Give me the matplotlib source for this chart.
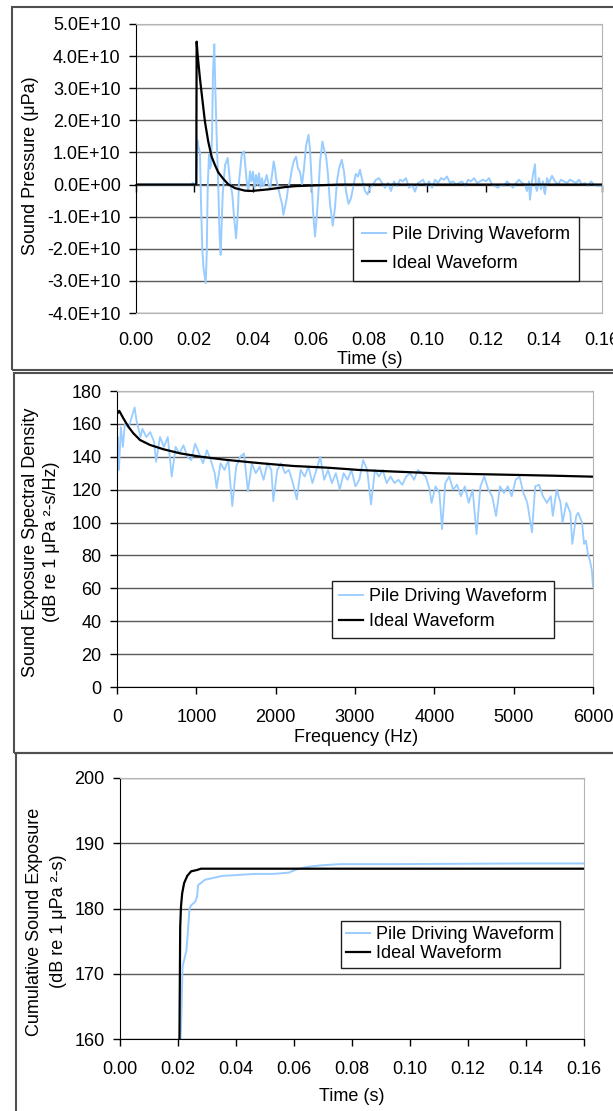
import matplotlib
matplotlib.use("Agg")
import matplotlib.pyplot as plt
import numpy as np
from matplotlib.patches import Rectangle
from matplotlib.ticker import FuncFormatter, MultipleLocator

plt.rcParams['font.family'] = ['Liberation Sans', 'DejaVu Sans']
plt.rcParams['font.size'] = 13

BLUE = "#99ccff"
GRID = "#5a5a5a"
BORDER = "#b4b4b4"

# ---- panel 1: sound pressure time series (values in 1E10 uPa)
pile_t = [0.0, 0.019, 0.0195, 0.0200, 0.0207, 0.02105, 0.02139, 0.02195, 0.0223, 0.02276,
          0.02318, 0.02393, 0.02427, 0.02462, 0.02506, 0.02541, 0.02575, 0.0261, 0.02644, 0.02688,
          0.02723, 0.02771, 0.02826, 0.02867, 0.02908, 0.02942, 0.02977, 0.03056, 0.03148, 0.03227,
          0.03306, 0.03365, 0.03434, 0.03502, 0.03537, 0.03629, 0.03708, 0.03801, 0.03856, 0.03914,
          0.03966, 0.04017, 0.04069, 0.0412, 0.04172, 0.04223, 0.04275, 0.04326, 0.04371, 0.04429,
          0.04488, 0.04543, 0.04601, 0.0467, 0.04728, 0.04773, 0.04807, 0.04859, 0.04944, 0.05013,
          0.05061, 0.05116, 0.05175, 0.05219, 0.05288, 0.05356, 0.05425, 0.05494, 0.05562, 0.05631,
          0.0570, 0.05768, 0.05837, 0.05923, 0.05974, 0.06026, 0.06077, 0.06146, 0.06214, 0.06266,
          0.06318, 0.064, 0.06455, 0.06524, 0.06592, 0.06661, 0.06757, 0.06833, 0.06901, 0.0697,
          0.07066, 0.07142, 0.0721, 0.07296, 0.07382, 0.07451, 0.07543, 0.07622, 0.07691, 0.07777,
          0.07863, 0.07949, 0.08034, 0.08137, 0.0824, 0.08343, 0.08446, 0.08549, 0.08652, 0.08755,
          0.08858, 0.08961, 0.09064, 0.09167, 0.0927, 0.09373, 0.09476, 0.09579, 0.09682, 0.09785,
          0.09854, 0.09957, 0.1006, 0.10163, 0.10266, 0.10369, 0.10472, 0.10575, 0.10678, 0.10781,
          0.10884, 0.10987, 0.1109, 0.11193, 0.11296, 0.11399, 0.11502, 0.11605, 0.11708, 0.11811,
          0.11914, 0.12017, 0.1212, 0.12223, 0.12326, 0.12429, 0.12532, 0.12635, 0.12738, 0.12841,
          0.12944, 0.13047, 0.1315, 0.13253, 0.13356, 0.13425, 0.13493, 0.13527, 0.13579, 0.1363,
          0.13699, 0.13733, 0.13768, 0.13836, 0.13905, 0.13974, 0.14042, 0.14111, 0.1418, 0.14283,
          0.14386, 0.14489, 0.14592, 0.14695, 0.14798, 0.14901, 0.15004, 0.15107, 0.1521, 0.15313,
          0.15416, 0.15519, 0.15622, 0.15725, 0.15828, 0.15931, 0.16]
pile_p = [0.0, 0.0, 0.05, 0.0, 0.0, 1.39, 1.2, 1.0, -0.5, -2.0,
          -2.6, -3.07, -2.2, -0.1, 0.93, 0.5, 0.61, 1.5, 3.5, 4.37,
          3.0, 1.46, -0.1, -1.5, -2.19, -1.2, -0.3, 0.6, 0.83, 0.1,
          -0.3, -1.0, -1.67, -0.8, 0.1, 0.93, 1.04, 0.1, -0.21, 0.41,
          0.1, 0.4, -0.1, 0.3, 0.0, 0.35, -0.1, 0.2, -0.05, 0.1,
          0.3, 0.05, -0.15, 0.3, 0.72, 0.5, 0.2, 0.0, -0.35, -0.6,
          -0.94, -0.7, -0.43, -0.1, 0.1, 0.5, 0.75, 0.87, 0.5, 0.4,
          0.0, 0.5, 1.2, 1.55, 1.1, 0.2, -0.8, -1.62, -0.9, -0.2,
          0.7, 1.34, 1.1, 0.9, 0.3, -0.6, -1.28, -0.7, 0.1, 0.5,
          0.77, 0.4, -0.2, -0.6, -0.43, -0.1, 0.33, 0.25, 0.46, 0.1,
          -0.2, -0.31, -0.1, 0.0, 0.15, 0.2, 0.05, -0.1, 0.05, -0.2,
          0.1, -0.05, 0.15, 0.1, 0.2, -0.1, 0.0, -0.22, 0.05, 0.1,
          0.15, -0.05, 0.1, -0.1, 0.15, 0.05, 0.2, 0.15, 0.25, 0.05,
          0.1, 0.0, 0.05, 0.1, -0.05, 0.15, 0.1, 0.2, 0.05, 0.1,
          0.15, 0.1, 0.2, 0.0, -0.05, -0.1, 0.0, -0.05, 0.1, 0.0,
          -0.1, 0.05, 0.15, 0.05, 0.0, -0.2, 0.1, -0.47, 0.0, 0.3,
          0.63, -0.1, -0.2, 0.2, -0.15, 0.1, -0.3, 0.2, 0.05, 0.27,
          0.1, 0.0, 0.15, 0.1, 0.05, 0.15, 0.1, 0.05, 0.15, 0.0,
          0.05, -0.05, 0.1, 0.0, -0.05, -0.05, 0.0]
ideal_t = [0.0, 0.0207, 0.02082, 0.02116, 0.02195, 0.02253, 0.02367, 0.0248, 0.02596, 0.0271,
           0.02824, 0.02995, 0.03167, 0.03396, 0.03739, 0.03967, 0.04539, 0.0511, 0.05454, 0.06,
           0.07, 0.16]
ideal_p = [0.0, 0.0, 4.45, 4.04, 3.31, 2.85, 1.96, 1.34, 0.87, 0.61,
           0.38, 0.18, 0.01, -0.11, -0.19, -0.2, -0.15, -0.08, -0.05, -0.03,
           0.0, 0.0]

# ---- panel 2: sound exposure spectral density (dB)
pile_f = [0, 10, 25, 49, 74, 99, 148, 197, 222, 246, 296, 320, 369, 419, 468, 493, 542, 591, 640, 690,
          739, 788, 837, 887, 936, 985, 1034, 1084, 1133, 1182, 1232, 1256, 1305, 1355, 1404, 1453, 1502,
          1552, 1601, 1650, 1700, 1749, 1798, 1847, 1897, 1946, 1970, 2020, 2069, 2118, 2167, 2217, 2266,
          2315, 2365, 2414, 2463, 2512, 2562, 2611, 2660, 2709, 2759, 2808, 2857, 2906, 2956, 3005, 3054,
          3103, 3153, 3202, 3251, 3301, 3350, 3399, 3448, 3498, 3547, 3596, 3645, 3695, 3744, 3793, 3842,
          3892, 3941, 3965, 4015, 4064, 4098, 4138, 4187, 4237, 4286, 4335, 4384, 4433, 4483, 4532, 4581,
          4630, 4680, 4729, 4778, 4828, 4877, 4926, 4975, 5025, 5074, 5123, 5172, 5231, 5271, 5320, 5369,
          5419, 5468, 5493, 5542, 5591, 5616, 5665, 5714, 5739, 5788, 5813, 5862, 5887, 5911, 5936, 5961,
          5985, 6000]
pile_db = [126, 152, 132, 158, 146, 160, 158, 166, 170, 162, 152, 157, 152, 155, 149, 137, 152, 146, 152, 128,
           146, 142, 147, 140, 138, 148, 142, 136, 144, 138, 130, 121, 136, 132, 138, 110, 134,
           140, 142, 119, 136, 130, 134, 126, 136, 132, 113, 132, 136, 130, 132, 124, 114,
           132, 128, 134, 124, 132, 140, 126, 132, 124, 130, 120, 130, 126, 132, 122, 126,
           138, 132, 111, 132, 128, 132, 124, 128, 124, 126, 123, 128, 130, 126, 132, 130,
           128, 120, 112, 122, 118, 96, 124, 128, 120, 123, 116, 122, 112, 120, 93, 122,
           128, 120, 116, 104, 122, 118, 122, 116, 126, 128, 118, 112, 94, 122, 123, 116,
           112, 116, 104, 120, 112, 100, 112, 106, 87, 104, 106, 100, 87, 89, 81, 77,
           71, 61]
ideal_f = [0, 29, 80, 143, 206, 290, 416, 584, 794, 1046, 1382, 1803, 2223, 2643, 2935, 3042,
           3500, 4000, 4500, 5000, 5500, 6000]
ideal_db = [166, 167.9, 163.4, 158.3, 154.3, 150.2, 147.2, 144.6, 142.1, 140.1, 138.1, 136.1,
            134.4, 133.4, 132.4, 132.0, 131.0, 130.0, 129.5, 129.0, 128.5, 127.9]

# ---- panel 3: cumulative sound exposure (dB)
cum_pile_t = [0.0209, 0.02116, 0.02157, 0.02211, 0.02292, 0.02345, 0.02399, 0.02453, 0.02588, 0.02656,
              0.02696, 0.0279, 0.02925, 0.03127, 0.03532, 0.03936, 0.0461, 0.05284, 0.05823, 0.06093,
              0.06497, 0.06902, 0.07576, 0.09328, 0.13777, 0.16]
cum_pile_db = [160, 163.4, 171.1, 172.1, 173.6, 176.7, 180.0, 180.5, 181.0, 181.8,
               183.6, 183.9, 184.4, 184.6, 185.0, 185.1, 185.3, 185.3, 185.5, 186.0,
               186.4, 186.6, 186.8, 186.8, 186.9, 186.9]
cum_ideal_t = [0.0205, 0.02076, 0.02103, 0.02143, 0.02211, 0.02319, 0.02453, 0.02656, 0.0279, 0.16]
cum_ideal_db = [160, 177.2, 180.3, 182.3, 183.9, 185.0, 185.7, 185.9, 186.1, 186.1]

LABELS = ["Pile Driving Waveform", "Ideal Waveform"]

fig = plt.figure(figsize=(6.13, 11.11), dpi=100)

# panel frames
for x0, y0, y1 in [(12, 7, 370), (14, 373, 753), (16, 753, 1130)]:
    fig.patches.append(Rectangle((x0 / 613, 1 - y1 / 1111), 1.1, (y1 - y0) / 1111,
                                 transform=fig.transFigure, fill=False,
                                 edgecolor="#505050", lw=1.5, clip_on=False))


def style(ax):
    ax.grid(axis='y', color=GRID, lw=1.0)
    ax.set_axisbelow(True)
    ax.spines['top'].set_color(BORDER)
    ax.spines['right'].set_color(BORDER)
    ax.spines['left'].set_color('black')
    ax.tick_params(axis='y', direction='out', length=5, width=1, pad=6, labelsize=13)
    ax.tick_params(axis='x', labelsize=13)


def legend(ax, anchor, lsp, bpad):
    lg = ax.legend(LABELS, loc='upper left', bbox_to_anchor=anchor, bbox_transform=fig.transFigure,
                   borderaxespad=0, fontsize=13, handlelength=1.3, handletextpad=0.35,
                   labelspacing=lsp, borderpad=bpad, fancybox=False, framealpha=1)
    lg.get_frame().set_edgecolor('#202020')
    lg.get_frame().set_linewidth(1.0)


# ---- panel 1
ax1 = fig.add_axes([136 / 613, 1 - 313 / 1111, 466 / 613, 289 / 1111])
ax1.plot(pile_t, np.array(pile_p) * 1e10, color=BLUE, lw=1.4)
ax1.plot(ideal_t, np.array(ideal_p) * 1e10, color='black', lw=1.6)
ax1.set_xlim(0, 0.16)
ax1.set_ylim(-4e10, 5e10)
ax1.yaxis.set_major_locator(MultipleLocator(1e10))
ax1.yaxis.set_major_formatter(FuncFormatter(lambda v, p: f"{v:.1E}"))
ax1.xaxis.set_major_locator(MultipleLocator(0.02))
ax1.xaxis.set_major_formatter(FuncFormatter(lambda v, p: f"{v:.2f}"))
style(ax1)
ax1.spines['bottom'].set_color(BORDER)
ax1.tick_params(axis='x', length=0, pad=14)
sec = ax1.secondary_xaxis(4 / 9)
sec.xaxis.set_major_locator(MultipleLocator(0.02))
sec.tick_params(axis='x', direction='out', length=5, width=1, labelbottom=False)
sec.spines['bottom'].set_color('black')
sec.spines['bottom'].set_linewidth(1.2)
ax1.set_xlabel("Time (s)", va='center')
ax1.xaxis.set_label_coords(0.502, -0.162)
ax1.set_ylabel("Sound Pressure (μPa)", va='center')
ax1.yaxis.set_label_coords(-0.227, 0.51)
legend(ax1, (353 / 613, 1 - 217 / 1111), 0.65, 0.5)

# ---- panel 2
ax2 = fig.add_axes([117 / 613, 1 - 687 / 1111, 476 / 613, 296 / 1111])
ax2.plot(pile_f, pile_db, color=BLUE, lw=1.3)
ax2.plot(ideal_f, ideal_db, color='black', lw=1.6)
ax2.set_xlim(0, 6000)
ax2.set_ylim(0, 180)
ax2.yaxis.set_major_locator(MultipleLocator(20))
ax2.xaxis.set_major_locator(MultipleLocator(1000))
style(ax2)
ax2.tick_params(axis='x', direction='out', length=5, width=1, pad=11)
ax2.set_xlabel("Frequency (Hz)", va='center')
ax2.xaxis.set_label_coords(0.502, -0.172)
ax2.set_ylabel("Sound Exposure Spectral Density\n(dB re 1 μPa ²-s/Hz)", va='center', linespacing=1.35)
ax2.yaxis.set_label_coords(-0.16, 0.49)
legend(ax2, (332 / 613, 1 - 581 / 1111), 0.45, 0.4)

# ---- panel 3
ax3 = fig.add_axes([120 / 613, 1 - 1039 / 1111, 464 / 613, 261 / 1111])
ax3.plot(cum_pile_t, cum_pile_db, color=BLUE, lw=1.4)
ax3.plot(cum_ideal_t, cum_ideal_db, color='black', lw=1.6)
ax3.set_xlim(0, 0.16)
ax3.set_ylim(160, 200)
ax3.yaxis.set_major_locator(MultipleLocator(10))
ax3.xaxis.set_major_locator(MultipleLocator(0.02))
ax3.xaxis.set_major_formatter(FuncFormatter(lambda v, p: f"{v:.2f}"))
style(ax3)
ax3.tick_params(axis='x', direction='out', length=5, width=1, pad=11)
ax3.set_xlabel("Time (s)", va='center')
ax3.xaxis.set_label_coords(0.5, -0.222)
ax3.set_ylabel("Cumulative Sound Exposure\n(dB re 1 μPa ²-s)", va='center', linespacing=1.5)
ax3.yaxis.set_label_coords(-0.158, 0.45)
legend(ax3, (341 / 613, 1 - 921 / 1111), 0.1, 0.3)

fig.savefig("out.png", dpi=100)
